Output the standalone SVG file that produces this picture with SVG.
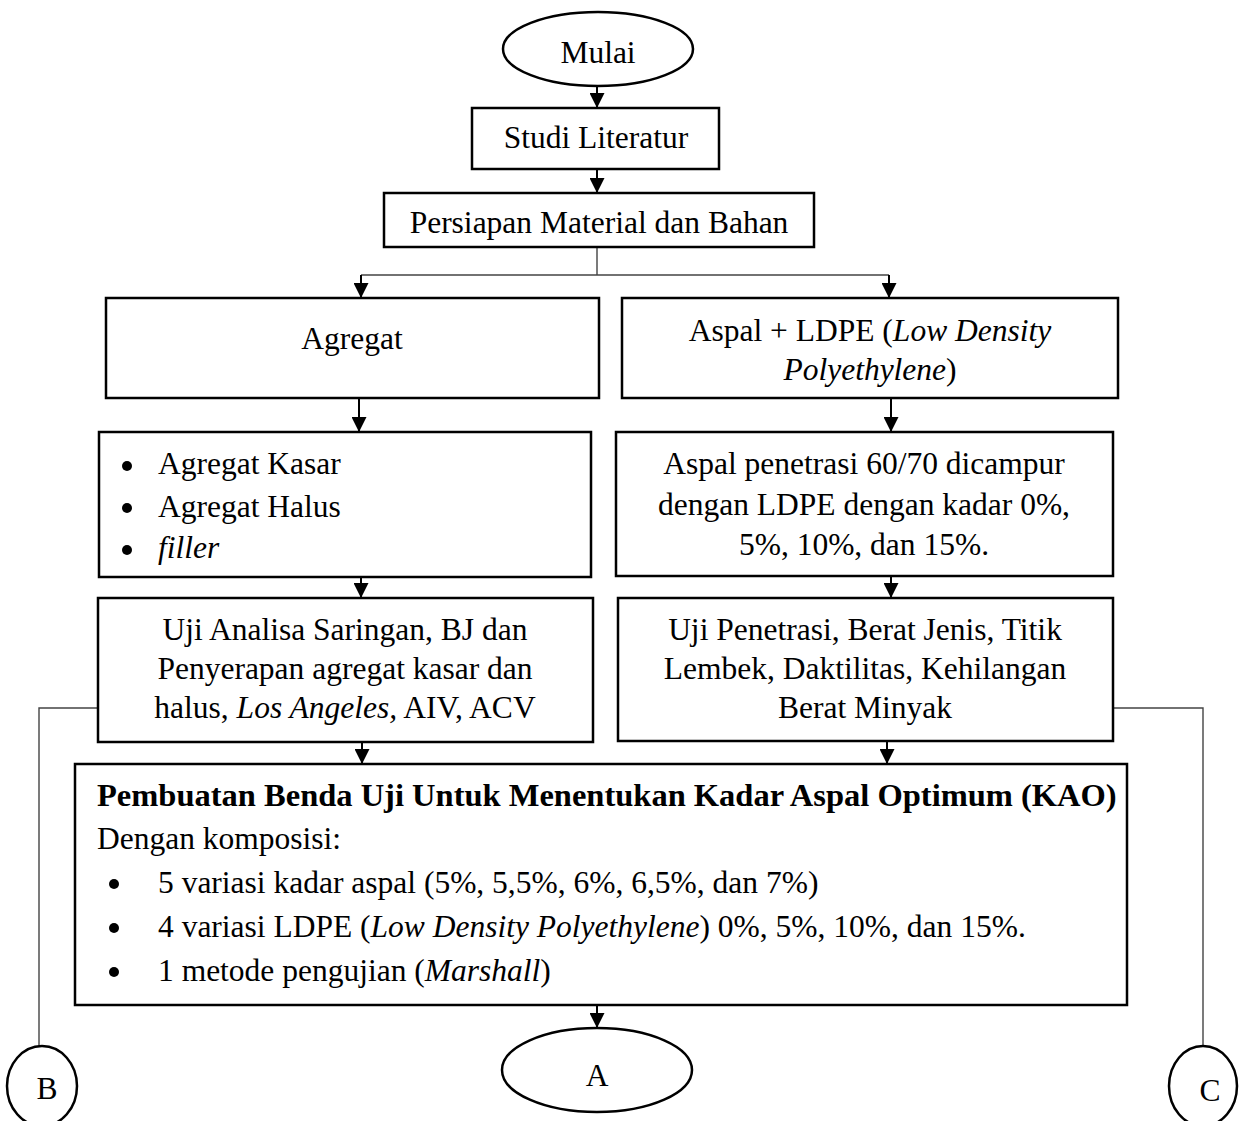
<svg xmlns="http://www.w3.org/2000/svg" width="1246" height="1121" viewBox="0 0 1246 1121">
<style>
.box{fill:#fff;stroke:#000;stroke-width:2.5}
.t{font-family:"Liberation Serif","Times New Roman",serif;font-size:31.5px;fill:#000}
.c{text-anchor:middle}
.b{font-weight:bold;font-size:32.5px}
.i{font-style:italic}
.ar{fill:none;stroke:#000;stroke-width:2}
.thin{fill:none;stroke:#444;stroke-width:1.4}
</style>
<defs>
<marker id="ah" markerUnits="userSpaceOnUse" markerWidth="15" markerHeight="15" refX="15" refY="7.5" orient="auto" viewBox="0 0 15 15">
<path d="M0,0 L15,7.5 L0,15 z" fill="#000"/>
</marker>
</defs>
<g id="connectors">
<line class="ar" x1="597" y1="87" x2="597" y2="108" marker-end="url(#ah)"/>
<line class="ar" x1="597" y1="170" x2="597" y2="193" marker-end="url(#ah)"/>
<path class="thin" d="M597,247 V275 M361,275 H889"/>
<line class="ar" x1="361" y1="275" x2="361" y2="298" marker-end="url(#ah)"/>
<line class="ar" x1="889" y1="275" x2="889" y2="298" marker-end="url(#ah)"/>
<line class="ar" x1="359" y1="399" x2="359" y2="432" marker-end="url(#ah)"/>
<line class="ar" x1="891" y1="399" x2="891" y2="432" marker-end="url(#ah)"/>
<line class="ar" x1="361" y1="577" x2="361" y2="598" marker-end="url(#ah)"/>
<line class="ar" x1="891" y1="576" x2="891" y2="598" marker-end="url(#ah)"/>
<line class="ar" x1="362" y1="742" x2="362" y2="764" marker-end="url(#ah)"/>
<line class="ar" x1="887" y1="741" x2="887" y2="764" marker-end="url(#ah)"/>
<line class="ar" x1="597" y1="1005" x2="597" y2="1028" marker-end="url(#ah)"/>
<path class="thin" d="M98,708 H39 V1046"/>
<path class="thin" d="M1113,708 H1203 V1046"/>
</g>
<g id="mulai">
<ellipse class="box" cx="598" cy="49" rx="95" ry="37"/>
<text class="t c" x="598" y="63">Mulai</text>
</g>
<g id="studi">
<rect class="box" x="472" y="108" width="247" height="61"/>
<text class="t c" x="596" y="148">Studi Literatur</text>
</g>
<g id="persiapan">
<rect class="box" x="384" y="193" width="430" height="54"/>
<text class="t c" x="599" y="233">Persiapan Material dan Bahan</text>
</g>
<g id="agregat">
<rect class="box" x="106" y="298" width="493" height="100"/>
<text class="t c" x="352" y="349">Agregat</text>
</g>
<g id="aspal-ldpe">
<rect class="box" x="622" y="298" width="496" height="100"/>
<text class="t c" x="870" y="341">Aspal + LDPE (<tspan class="i">Low Density</tspan></text>
<text class="t c" x="870" y="380"><tspan class="i">Polyethylene</tspan>)</text>
</g>
<g id="agregat-list">
<rect class="box" x="99" y="432" width="492" height="145"/>
<circle cx="127" cy="466" r="5"/>
<circle cx="127" cy="508" r="5"/>
<circle cx="127" cy="550" r="5"/>
<text class="t" x="158" y="474">Agregat Kasar</text>
<text class="t" x="158" y="517">Agregat Halus</text>
<text class="t i" x="158" y="558">filler</text>
</g>
<g id="aspal-campur">
<rect class="box" x="616" y="432" width="497" height="144"/>
<text class="t c" x="864" y="474">Aspal penetrasi 60/70 dicampur</text>
<text class="t c" x="864" y="515">dengan LDPE dengan kadar 0%,</text>
<text class="t c" x="864" y="555">5%, 10%, dan 15%.</text>
</g>
<g id="uji-agregat">
<rect class="box" x="98" y="598" width="495" height="144"/>
<text class="t c" x="345" y="640">Uji Analisa Saringan, BJ dan</text>
<text class="t c" x="345" y="679">Penyerapan agregat kasar dan</text>
<text class="t c" x="345" y="718">halus, <tspan class="i">Los Angeles,</tspan> AIV, ACV</text>
</g>
<g id="uji-aspal">
<rect class="box" x="618" y="598" width="495" height="143"/>
<text class="t c" x="865" y="640">Uji Penetrasi, Berat Jenis, Titik</text>
<text class="t c" x="865" y="679">Lembek, Daktilitas, Kehilangan</text>
<text class="t c" x="865" y="718">Berat Minyak</text>
</g>
<g id="pembuatan">
<rect class="box" x="75" y="764" width="1052" height="241"/>
<text class="t b" x="97" y="806">Pembuatan Benda Uji Untuk Menentukan Kadar Aspal Optimum (KAO)</text>
<text class="t" x="97" y="849">Dengan komposisi:</text>
<circle cx="114" cy="884" r="5"/>
<circle cx="114" cy="928" r="5"/>
<circle cx="114" cy="972" r="5"/>
<text class="t" x="158" y="893">5 variasi kadar aspal (5%, 5,5%, 6%, 6,5%, dan 7%)</text>
<text class="t" x="158" y="937">4 variasi LDPE (<tspan class="i">Low Density Polyethylene</tspan>) 0%, 5%, 10%, dan 15%.</text>
<text class="t" x="158" y="981">1 metode pengujian (<tspan class="i">Marshall</tspan>)</text>
</g>
<g id="a">
<ellipse class="box" cx="597" cy="1070" rx="95" ry="42"/>
<text class="t c" x="597" y="1086">A</text>
</g>
<g id="b">
<ellipse class="box" cx="42" cy="1086" rx="35" ry="40"/>
<text class="t c" x="47" y="1099">B</text>
</g>
<g id="c">
<ellipse class="box" cx="1203" cy="1086" rx="34" ry="40"/>
<text class="t c" x="1210" y="1101">C</text>
</g>
</svg>
